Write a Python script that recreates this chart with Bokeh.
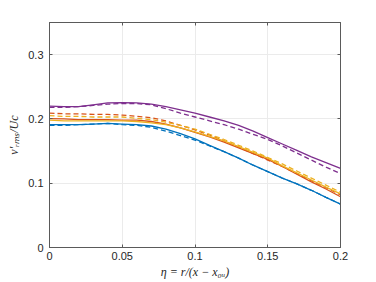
from bokeh.plotting import figure
from bokeh.models import LinearAxis, FixedTicker, CustomJSTickFormatter
from bokeh.embed import file_html
from bokeh.resources import INLINE

eta = [0.00, 0.01, 0.02, 0.03, 0.04, 0.05, 0.06, 0.07, 0.08, 0.09, 0.10,
       0.11, 0.12, 0.13, 0.14, 0.15, 0.16, 0.17, 0.18, 0.19, 0.20]

blue_solid = [0.191, 0.191, 0.191, 0.192, 0.193, 0.192, 0.191, 0.189, 0.184, 0.177, 0.169,
              0.159, 0.149, 0.139, 0.128, 0.118, 0.108, 0.099, 0.089, 0.078, 0.0675]
blue_dashed = [0.190, 0.190, 0.191, 0.192, 0.193, 0.191, 0.190, 0.187, 0.181, 0.174, 0.167,
               0.158, 0.149, 0.139, 0.128, 0.118, 0.108, 0.099, 0.089, 0.078, 0.0675]
red_solid = [0.2005, 0.200, 0.199, 0.199, 0.199, 0.198, 0.198, 0.196, 0.192, 0.186, 0.179,
             0.172, 0.164, 0.155, 0.146, 0.137, 0.126, 0.114, 0.102, 0.091, 0.079]
red_dashed = [0.209, 0.208, 0.208, 0.207, 0.207, 0.206, 0.204, 0.202, 0.197, 0.190, 0.183,
              0.175, 0.166, 0.156, 0.146, 0.136, 0.126, 0.115, 0.104, 0.093, 0.082]
yellow_solid = [0.198, 0.197, 0.197, 0.197, 0.197, 0.197, 0.196, 0.194, 0.191, 0.186, 0.180,
                0.173, 0.166, 0.157, 0.148, 0.139, 0.127, 0.116, 0.105, 0.094, 0.0835]
yellow_dashed = [0.205, 0.204, 0.204, 0.203, 0.203, 0.203, 0.201, 0.199, 0.195, 0.190, 0.184,
                 0.176, 0.168, 0.159, 0.150, 0.140, 0.130, 0.119, 0.108, 0.097, 0.086]
purple_solid = [0.220, 0.219, 0.219, 0.222, 0.225, 0.2255, 0.225, 0.223, 0.219, 0.214, 0.209,
                0.203, 0.197, 0.190, 0.181, 0.171, 0.161, 0.151, 0.141, 0.132, 0.123]
purple_dashed = [0.218, 0.218, 0.219, 0.221, 0.223, 0.224, 0.224, 0.222, 0.216, 0.209, 0.203,
                 0.197, 0.191, 0.184, 0.176, 0.168, 0.158, 0.147, 0.136, 0.125, 0.115]

x_ticks = [0, 0.05, 0.1, 0.15, 0.2]
x_tick_labels = ["0", "0.05", "0.1", "0.15", "0.2"]
y_ticks = [0, 0.1, 0.2, 0.3]
y_tick_labels = ["0", "0.1", "0.2", "0.3"]

x_label = "η = r/(x − x₀ᵤ)"
y_label = "v′ᵣₘₛ/Uc"

AX = "#5a5a5a"
TXT = "#262626"

p = figure(width=376, height=282, x_range=(0, 0.2), y_range=(0, 0.35),
           output_backend="svg", toolbar_location=None,
           min_border_left=49, min_border_right=36, min_border_top=22, min_border_bottom=35,
           background_fill_color="white", border_fill_color="white")
p.outline_line_color = AX
p.outline_line_width = 1

series = [
    (blue_solid, "#0072BD", "solid"),
    (blue_dashed, "#0072BD", "5 3"),
    (red_solid, "#D95319", "solid"),
    (red_dashed, "#D95319", "5 3"),
    (yellow_solid, "#EDB120", "solid"),
    (yellow_dashed, "#EDB120", "5 3"),
    (purple_solid, "#7E2F8E", "solid"),
    (purple_dashed, "#7E2F8E", "5 3"),
]
for vals, col, dash in series:
    p.line(eta, vals, line_color=col, line_width=1.3, line_dash=dash)

p.xaxis.ticker = FixedTicker(ticks=x_ticks)
p.xaxis.major_label_overrides = {t: s for t, s in zip(x_ticks, x_tick_labels)}
p.yaxis.ticker = FixedTicker(ticks=y_ticks)
p.yaxis.major_label_overrides = {t: s for t, s in zip(y_ticks, y_tick_labels)}

for ax in (p.xaxis[0], p.yaxis[0]):
    ax.axis_line_color = AX
    ax.major_tick_line_color = AX
    ax.major_tick_in = 3
    ax.major_tick_out = 0
    ax.minor_tick_line_color = None
    ax.major_label_text_font = "Liberation Sans"
    ax.major_label_text_font_size = "11px"
    ax.major_label_text_color = TXT
    ax.axis_label_text_font = "Liberation Serif"
    ax.axis_label_text_font_style = "italic"
    ax.axis_label_text_font_size = "12px"
    ax.axis_label_text_color = TXT

p.xaxis.axis_label = x_label
p.xaxis.major_label_standoff = 4
p.xaxis.axis_label_standoff = 2
p.yaxis.axis_label = y_label
p.yaxis.major_label_standoff = 6
p.yaxis.axis_label_standoff = 4

empty = CustomJSTickFormatter(code="return ''")
top = LinearAxis(ticker=FixedTicker(ticks=x_ticks), formatter=empty,
                 major_tick_in=3, major_tick_out=0, minor_tick_line_color=None,
                 axis_line_color=AX, major_tick_line_color=AX, major_label_standoff=0)
right = LinearAxis(ticker=FixedTicker(ticks=y_ticks), formatter=empty,
                   major_tick_in=3, major_tick_out=0, minor_tick_line_color=None,
                   axis_line_color=AX, major_tick_line_color=AX, major_label_standoff=0)
p.add_layout(top, "above")
p.add_layout(right, "right")

p.xgrid.grid_line_color = "#ebebeb"
p.ygrid.grid_line_color = "#ebebeb"
p.xgrid.ticker = FixedTicker(ticks=x_ticks)
p.ygrid.ticker = FixedTicker(ticks=y_ticks)

open("out.html", "w").write(file_html(p, INLINE))
